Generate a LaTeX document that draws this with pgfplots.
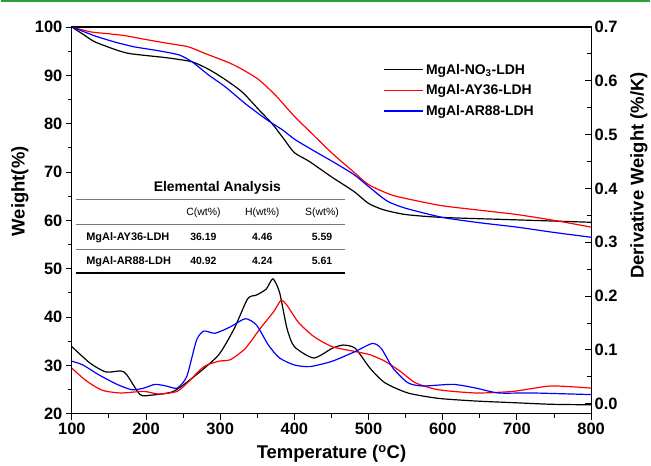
\documentclass[border=0pt]{standalone}
\usepackage{fontspec}
\setmainfont{Liberation Sans}
\usepackage{pgfplots}
\pgfplotsset{compat=1.18}
\definecolor{topgreen}{RGB}{40,160,60}
\definecolor{rulegray}{RGB}{120,120,120}

\begin{document}
\begin{tikzpicture}
\pgfplotsset{
  every axis/.append style={
    scale only axis, width=521pt, height=388pt,
    xmin=100, xmax=800,
    axis line style={line width=1.1pt},
    major tick length=6pt, minor tick length=4pt,
    every tick/.style={line width=1pt, black},
    tick label style={font=\fontsize{16.5}{16.5}\selectfont\bfseries},
    /pgf/number format/assume math mode=true,
    label style={font=\fontsize{18.5}{18.5}\selectfont\bfseries},
  },
}
% TGA (left axis)
\begin{axis}[
  name=main,
  ymin=20, ymax=100,
  xtick={100,200,...,800}, minor x tick num=1,
  ytick={20,30,...,100}, minor y tick num=1,
  tick align=outside, xtick pos=bottom, ytick pos=left,
  xlabel={Temperature (\textsuperscript{o}C)},
  ylabel={Weight(\%)},
  xlabel style={at={(axis description cs:0.5,-0.103)}, anchor=center},
  ylabel style={at={(axis description cs:-0.1,0.575)}, anchor=center},
  legend style={draw=none, fill=none, at={(0.593,0.915)}, anchor=north west,
    font=\fontsize{14}{14}\selectfont\bfseries, row sep=5pt,
    cells={anchor=west}},
  legend image code/.code={\draw[#1] (0pt,0pt) -- (40pt,0pt);},
]
\addplot[black, line width=1.2pt, smooth, tension=0.4] coordinates {
(100,100) (115,98.5) (130,97) (150,95.8) (165,95) (178,94.5) (200,94.1)
(230,93.6) (262,92.8) (285,91.2) (307,89.1) (330,86.5) (352,82.9) (370,80)
(385,77) (400,74) (420,72.2) (450,69) (480,66) (500,63.5) (520,62.2)
(550,61.2) (600,60.6) (700,60.1) (800,59.6)};
\addlegendentry{MgAl-NO\textsubscript{3}-LDH}
\addplot[red, line width=1.2pt, smooth, tension=0.4] coordinates {
(100,100) (125,99) (150,98.6) (172,98.2) (200,97.4) (230,96.6) (257,95.9)
(280,94.5) (312,92.6) (330,91.2) (352,89.1) (375,85.8) (400,81.5) (420,78.5)
(450,74) (480,70) (500,67.4) (530,65.3) (560,64.2) (600,63) (650,62.1)
(700,61.2) (750,60) (800,58.6)};
\addlegendentry{MgAl-AY36-LDH}
\addplot[blue, line width=1.2pt, smooth, tension=0.4] coordinates {
(100,100) (120,98.8) (134,98) (160,96.8) (184,95.9) (200,95.5) (220,95)
(245,94.2) (262,92.8) (285,90) (307,87.6) (335,84) (363,80.8) (385,78.6)
(400,76.8) (425,74.5) (450,72.3) (480,69.5) (500,67) (525,64) (550,62.5)
(600,60.6) (650,59.5) (700,58.6) (750,57.5) (800,56.5)};
\addlegendentry{MgAl-AR88-LDH}
\end{axis}
% DTG (right axis)
\begin{axis}[
  ymin=-0.0185, ymax=0.7,
  axis y line*=right, axis x line=none,
  ytick={0,0.1,...,0.7}, minor y tick num=1,
  tick align=inside,
  yticklabel style={/pgf/number format/.cd, fixed, fixed zerofill, precision=1},
  ylabel={Derivative Weight (\%/K)},
  ylabel style={at={(axis description cs:1.092,0.616)}, anchor=center},
]
\addplot[black, line width=1.2pt, smooth, tension=0.4] coordinates {
(100,0.106) (125,0.075) (146,0.059) (166,0.061) (174,0.054) (192,0.017)
(207,0.016) (237,0.023) (268,0.054) (298,0.091) (319,0.14) (337,0.195)
(349,0.202) (362,0.213) (371,0.232) (380,0.207) (390,0.14) (400,0.106)
(426,0.085) (451,0.103) (466,0.109) (482,0.103) (502,0.066) (522,0.039)
(553,0.020) (594,0.010) (645,0.005) (695,0.002) (746,-0.001) (800,-0.002)};
\addplot[red, line width=1.2pt, smooth, tension=0.4] coordinates {
(100,0.066) (120,0.042) (141,0.025) (166,0.020) (197,0.023) (217,0.018)
(242,0.023) (258,0.042) (278,0.069) (298,0.079) (314,0.082) (334,0.103)
(354,0.14) (372,0.171) (382,0.192) (390,0.183) (405,0.152) (426,0.125)
(451,0.106) (482,0.097) (502,0.091) (522,0.079) (543,0.060) (563,0.039)
(594,0.026) (645,0.020) (695,0.023) (746,0.033) (800,0.029)};
\addplot[blue, line width=1.2pt, smooth, tension=0.4] coordinates {
(100,0.079) (115,0.072) (136,0.054) (161,0.036) (181,0.026) (197,0.029)
(212,0.036) (227,0.033) (242,0.029) (255,0.051) (268,0.118) (278,0.135)
(293,0.131) (314,0.143) (334,0.158) (349,0.146) (365,0.109) (380,0.085)
(400,0.072) (421,0.069) (451,0.079) (482,0.097) (505,0.112) (517,0.103)
(533,0.066) (553,0.039) (573,0.033) (614,0.036) (645,0.029) (675,0.020)
(721,0.020) (800,0.017)};
\end{axis}
% inset table: offsets in pt from the lower left corner of the axis box
\begin{scope}[shift={(main.south west)}]
  \node[font=\fontsize{14}{14}\selectfont\bfseries] at (146pt,227pt) {Elemental Analysis};
  \draw[rulegray, line width=1pt] (4pt,215pt) -- (274pt,215pt);
  \node[font=\fontsize{10.5}{10.5}\selectfont] at (132pt,202pt) {C(wt\%)};
  \node[font=\fontsize{10.5}{10.5}\selectfont] at (191pt,202pt) {H(wt\%)};
  \node[font=\fontsize{10.5}{10.5}\selectfont] at (251pt,202pt) {S(wt\%)};
  \draw[rulegray, line width=1pt] (4pt,190pt) -- (274pt,190pt);
  \node[font=\fontsize{11}{11}\selectfont\bfseries, anchor=west] at (11pt,177pt) {MgAl-AY36-LDH};
  \node[font=\fontsize{10.5}{10.5}\selectfont\bfseries] at (132pt,177pt) {36.19};
  \node[font=\fontsize{10.5}{10.5}\selectfont\bfseries] at (191pt,177pt) {4.46};
  \node[font=\fontsize{10.5}{10.5}\selectfont\bfseries] at (251pt,177pt) {5.59};
  \draw[rulegray, line width=1pt] (4pt,165pt) -- (274pt,165pt);
  \node[font=\fontsize{11}{11}\selectfont\bfseries, anchor=west] at (11pt,153pt) {MgAl-AR88-LDH};
  \node[font=\fontsize{10.5}{10.5}\selectfont\bfseries] at (132pt,153pt) {40.92};
  \node[font=\fontsize{10.5}{10.5}\selectfont\bfseries] at (191pt,153pt) {4.24};
  \node[font=\fontsize{10.5}{10.5}\selectfont\bfseries] at (251pt,153pt) {5.61};
  \draw[black, line width=1.8pt] (4pt,141pt) -- (274pt,141pt);
\end{scope}
% green rule on top of the figure and the page frame
\draw[topgreen, line width=2.2pt] ([xshift=-71pt,yshift=26pt]main.north west) -- ([xshift=59pt,yshift=26pt]main.north east);
\path ([xshift=-71pt,yshift=-51pt]main.south west) rectangle ([xshift=59pt,yshift=27pt]main.north east);
\end{tikzpicture}
\end{document}
